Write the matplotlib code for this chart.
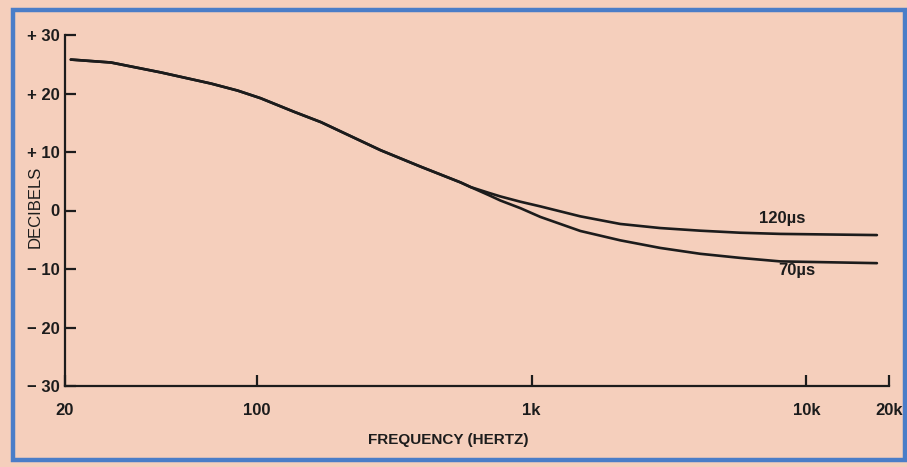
import matplotlib
matplotlib.use("Agg")
import matplotlib.pyplot as plt
from matplotlib.patches import Rectangle
from matplotlib.ticker import NullLocator

# ---- data ----
freq_common = [21, 29.4, 44.7, 68, 85, 103, 136, 171, 202, 282, 394, 551, 600]
db_common = [25.8, 25.3, 23.6, 21.7, 20.5, 19.2, 16.9, 15.1, 13.5, 10.3, 7.5, 4.8, 4.0]
freq_hi = [700, 770, 910, 1076, 1504, 2102, 2938, 4108, 5741, 8030, 18070]
db_120 = [3.0, 2.4, 1.5, 0.7, -1.0, -2.3, -3.0, -3.45, -3.8, -4.0, -4.2]
db_70 = [2.6, 1.7, 0.4, -1.1, -3.5, -5.1, -6.4, -7.4, -8.1, -8.7, -9.0]

x_ticks = [20, 100, 1000, 10000, 20000]
x_labels = ["20", "100", "1k", "10k", "20k"]
y_ticks = [30, 20, 10, 0, -10, -20, -30]
y_labels = ["+ 30", "+ 20", "+ 10", "0", "\u2212 10", "\u2212 20", "\u2212 30"]

plt.rcParams['font.family'] = ['Liberation Sans', 'DejaVu Sans']

W, H = 907, 467
bg = '#F5CFBC'
ink = '#1c1c1c'
fig = plt.figure(figsize=(W / 100, H / 100), dpi=100, facecolor=bg)

# blue frame
fig.patches.append(Rectangle((13 / W, 1 - 460 / H), (905 - 13) / W, (460 - 10) / H,
                             transform=fig.transFigure, fill=False,
                             edgecolor='#4A7DC8', linewidth=3.2))

ax = fig.add_axes([65 / W, 1 - 386 / H, (889 - 65) / W, (386 - 35) / H])
ax.set_facecolor('none')
ax.set_xscale('log')
ax.set_xlim(20, 20000)
ax.set_ylim(-30, 30)

f_all = freq_common + freq_hi
ax.plot(f_all, db_common + db_120, color=ink, lw=1.9,
        solid_capstyle='round', solid_joinstyle='round')
ax.plot(f_all, db_common + db_70, color=ink, lw=1.9,
        solid_capstyle='round', solid_joinstyle='round')

for s in ['top', 'right']:
    ax.spines[s].set_visible(False)
for s in ['left', 'bottom']:
    ax.spines[s].set_color(ink)
    ax.spines[s].set_linewidth(1.6)

ax.set_xticks(x_ticks)
ax.set_xticklabels(x_labels)
ax.xaxis.set_minor_locator(NullLocator())
ax.set_yticks(y_ticks)
ax.set_yticklabels(y_labels)
ax.tick_params(axis='both', direction='in', length=8, width=1.6, color=ink,
               labelcolor=ink, labelsize=12)
ax.tick_params(axis='x', pad=12)
ax.tick_params(axis='y', pad=4)
for lab in ax.get_xticklabels() + ax.get_yticklabels():
    lab.set_fontweight('bold')

fig.text(35 / W, 1 - 207 / H, "DECIBELS", rotation=90, ha='center', va='center',
         fontsize=12, color=ink)
fig.text(448 / W, 1 - 440 / H, "FREQUENCY (HERTZ)", ha='center', va='center',
         fontsize=11, color=ink, fontweight='bold')

fig.text(782 / W, 1 - 219 / H, "120\u00b5s", ha='center', va='center',
         fontsize=12, fontweight='bold', color=ink)
fig.text(797 / W, 1 - 271 / H, "70\u00b5s", ha='center', va='center',
         fontsize=12, fontweight='bold', color=ink)

fig.savefig("out.png", dpi=100, facecolor=bg)
